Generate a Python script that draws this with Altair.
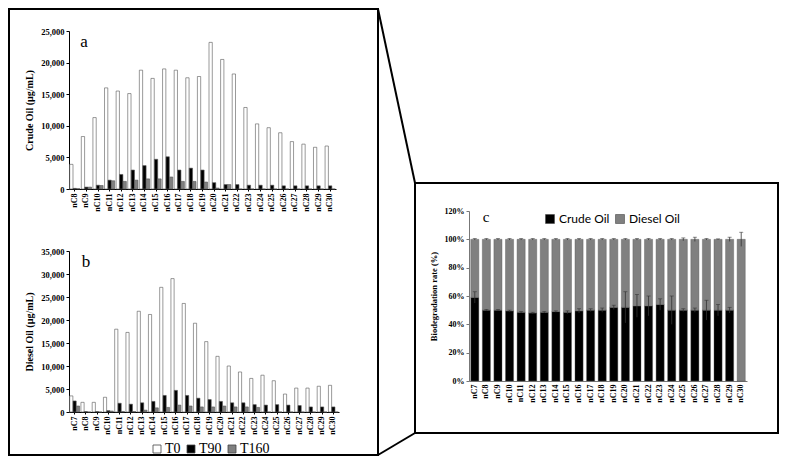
import altair as alt
import pandas as pd

# ---------------- data ----------------
cats_a = ["nC%d" % i for i in range(8, 31)]
t0_a = [3900, 8300, 11300, 16000, 15500, 15100, 18800, 17500, 19000, 18800, 17600, 17800,
        23200, 20500, 18200, 12900, 10300, 9700, 8900, 7500, 7100, 6600, 6800]
t90_a = [100, 300, 600, 1400, 2300, 3000, 3700, 4700, 5100, 3000, 3300, 3000,
         1000, 700, 700, 600, 600, 600, 500, 500, 500, 500, 500]
t160_a = [50, 300, 550, 1300, 1200, 1400, 1600, 1600, 1900, 1200, 1200, 1100,
          150, 700, 0, 0, 0, 0, 0, 0, 0, 0, 0]

cats_b = ["nC%d" % i for i in range(7, 31)]
t0_b = [3500, 2100, 2100, 3200, 18000, 17300, 21900, 21200, 27100, 29000, 23600, 19300,
        15300, 12100, 10000, 8700, 7300, 8000, 6800, 3900, 5200, 5200, 5600, 5800]
t90_b = [2400, 100, 100, 300, 1900, 1700, 2000, 2300, 3600, 4700, 3600, 3000,
         2700, 2300, 2000, 2000, 1600, 1500, 1600, 1500, 1400, 1100, 1100, 1100]
t160_b = [1300, 0, 0, 200, 100, 100, 400, 900, 1000, 1500, 1300, 1100,
          1100, 1300, 1100, 1100, 1000, 0, 0, 0, 0, 0, 0, 0]

series_ab = ["T0", "T90", "T160"]

cats_c = ["nC%d" % i for i in range(7, 31)]
crude_pct = [59, 50, 50, 49.5, 48.5, 48, 48.5, 49, 48.5, 49.5, 50, 50,
             52, 52, 53, 53, 54, 50, 50, 50, 50, 50, 50, 0]
crude_err = [4, 0.5, 0.5, 0.5, 0.5, 0.5, 0.5, 0.5, 1, 1.5, 1, 1.5,
             1.5, 11, 8, 7, 4, 10, 1, 1.5, 7, 4, 2, 0]
total_err = [0.5, 0.5, 0.5, 0.5, 0.5, 0.5, 0.5, 0.5, 0.5, 0.5, 0.5, 0.5,
             0.5, 0.5, 0.5, 0.5, 0.5, 0.5, 1, 1.5, 0.5, 0.3, 1.5, 5]
series_c = ["Crude Oil", "Diesel Oil"]

# ---------------- layout ----------------
W, H = 772, 448
SERIF = "Liberation Serif"


def grouped(cats, t0, t90, t160, xr, yr, ymax, ytitle, legend):
    n = len(cats)
    df = pd.DataFrame({
        "cat": cats * 3,
        "series": ["T0"] * n + ["T90"] * n + ["T160"] * n,
        "val": t0 + t90 + t160,
    })
    base_y = yr[0]
    return alt.Chart(df).mark_bar(stroke="#555", strokeWidth=0.6).encode(
        x=alt.X("cat:N", sort=cats,
                scale=alt.Scale(range=xr, paddingInner=0.12, paddingOuter=0.06),
                axis=alt.Axis(orient="bottom", offset=base_y - H, labelAngle=270,
                              labelFont=SERIF, labelFontWeight="bold", labelFontSize=8,
                              labelColor="black", labelPadding=2, title=None,
                              domainColor="black", tickColor="black", tickSize=2)),
        xOffset=alt.XOffset("series:N", sort=series_ab,
                            scale=alt.Scale(domain=series_ab, paddingInner=0.05)),
        y=alt.Y("val:Q",
                scale=alt.Scale(domain=[0, ymax], range=yr, nice=False),
                axis=alt.Axis(orient="left", offset=-xr[0],
                              values=list(range(0, ymax + 1, 5000)), format=",.0f",
                              labelFont=SERIF, labelFontWeight="bold", labelFontSize=8.5,
                              labelColor="black", grid=False, tickSize=3,
                              domainColor="black", tickColor="black",
                              title=ytitle, titleFont=SERIF, titleFontWeight="bold",
                              titleFontSize=10, titleColor="black", titlePadding=6)),
        color=alt.Color("series:N", sort=series_ab,
                        scale=alt.Scale(domain=series_ab,
                                        range=["#ffffff", "#000000", "#808080"]),
                        legend=legend),
    )


legend_ab = alt.Legend(orient="none", legendX=142, legendY=434, direction="horizontal",
                       title=None, symbolType="square", symbolSize=64,
                       symbolStrokeColor="#444", symbolStrokeWidth=0.8,
                       labelFont=SERIF, labelFontSize=14, labelColor="black",
                       labelOffset=1, columnPadding=3)

panel_a = grouped(cats_a, t0_a, t90_a, t160_a, [61, 328], [181, 23], 25000,
                  "Crude Oil (µg/mL)", legend_ab)
panel_b = grouped(cats_b, t0_b, t90_b, t160_b, [61, 331], [404, 243], 35000,
                  "Diesel Oil (µg/mL)", None)

# ---- panel c ----
n = len(cats_c)
df_c = pd.DataFrame({
    "cat": cats_c * 2,
    "series": ["Crude Oil"] * n + ["Diesel Oil"] * n,
    "order": [0] * n + [1] * n,
    "val": [v / 100 for v in crude_pct] + [(100 - v) / 100 for v in crude_pct],
})
df_err = pd.DataFrame({
    "cat": cats_c * 2,
    "lo": [(c - e) / 100 for c, e in zip(crude_pct, crude_err)]
          + [(100 - e) / 100 for e in total_err],
    "hi": [(c + e) / 100 for c, e in zip(crude_pct, crude_err)]
          + [(100 + e) / 100 for e in total_err],
})
df_err = df_err[[not (c == "nC30" and h < 0.5) for c, h in zip(df_err["cat"], df_err["hi"])]]

xc = alt.X("cat:N", sort=cats_c,
           scale=alt.Scale(range=[461, 739], paddingInner=0.3, paddingOuter=0.15),
           axis=alt.Axis(orient="bottom", offset=373 - H, labelAngle=270,
                         labelFont=SERIF, labelFontWeight="bold", labelFontSize=8,
                         labelColor="black", labelPadding=3, title=None,
                         domainColor="#777", tickColor="#777", tickSize=0))
yscale_c = alt.Scale(domain=[0, 1.2], range=[373, 203], nice=False)

bars_c = alt.Chart(df_c).mark_bar(stroke="#555", strokeWidth=0.4).encode(
    x=xc,
    y=alt.Y("val:Q", stack="zero", scale=yscale_c,
            axis=alt.Axis(orient="left", offset=-461, values=[0, 0.2, 0.4, 0.6, 0.8, 1.0, 1.2],
                          format=".0%", labelFont=SERIF, labelFontWeight="bold",
                          labelFontSize=8, labelColor="black", grid=False, tickSize=3,
                          domainColor="#777", tickColor="#777",
                          title="Biodegradation rate (%)", titleFont=SERIF,
                          titleFontWeight="bold", titleFontSize=8.5, titleColor="black",
                          titlePadding=6)),
    order=alt.Order("order:Q", sort="ascending"),
    color=alt.Color("series:N", sort=series_c,
                    scale=alt.Scale(domain=series_c, range=["#000000", "#808080"]),
                    legend=alt.Legend(orient="none", legendX=536, legendY=205,
                                      direction="horizontal", title=None,
                                      symbolType="square", symbolSize=80,
                                      symbolStrokeColor="#444", symbolStrokeWidth=0.6,
                                      labelFont="Lato", labelFontSize=12,
                                      labelColor="black", labelOffset=3,
                                      columnPadding=4)),
)
err_c = alt.Chart(df_err).mark_rule(color="#333", strokeWidth=0.8).encode(
    x=alt.X("cat:N", sort=cats_c), y=alt.Y("lo:Q", scale=yscale_c), y2="hi:Q")
caps_hi = alt.Chart(df_err).mark_tick(color="#333", size=4, thickness=0.8,
                                      orient="horizontal").encode(
    x=alt.X("cat:N", sort=cats_c), y=alt.Y("hi:Q", scale=yscale_c))
panel_c = alt.layer(bars_c, err_c, caps_hi)

# ---- decorations (frames, connectors, panel letters) ----
one = pd.DataFrame({"k": [0]})
frame_l = alt.Chart(one).mark_rect(fillOpacity=0, stroke="black", strokeWidth=2).encode(
    x=alt.value(1), x2=alt.value(370), y=alt.value(1), y2=alt.value(447))
frame_c = alt.Chart(one).mark_rect(fillOpacity=0, stroke="black", strokeWidth=2).encode(
    x=alt.value(407), x2=alt.value(770), y=alt.value(175), y2=alt.value(425))
conn_top = alt.Chart(one).mark_rule(color="black", strokeWidth=2).encode(
    x=alt.value(370), y=alt.value(1), x2=alt.value(407), y2=alt.value(175))
conn_bot = alt.Chart(one).mark_rule(color="black", strokeWidth=2).encode(
    x=alt.value(370), y=alt.value(447), x2=alt.value(407), y2=alt.value(425))
lab_a = alt.Chart(one).mark_text(font=SERIF, fontSize=17, color="black").encode(
    x=alt.value(76), y=alt.value(34), text=alt.value("a"))
lab_b = alt.Chart(one).mark_text(font=SERIF, fontSize=17, color="black").encode(
    x=alt.value(78), y=alt.value(254), text=alt.value("b"))
lab_c = alt.Chart(one).mark_text(font=SERIF, fontSize=15, color="black").encode(
    x=alt.value(478), y=alt.value(209), text=alt.value("c"))

chart = alt.layer(
    panel_a, panel_b, panel_c,
    frame_l, frame_c, conn_top, conn_bot, lab_a, lab_b, lab_c,
).resolve_scale(
    x="independent", y="independent", color="independent", xOffset="independent"
).properties(
    width=W, height=H, padding=0, autosize=alt.AutoSizeParams(type="none"),
    background="white",
).configure_view(stroke=None)

chart.save("out.html", embed_options={"renderer": "svg", "actions": False})
